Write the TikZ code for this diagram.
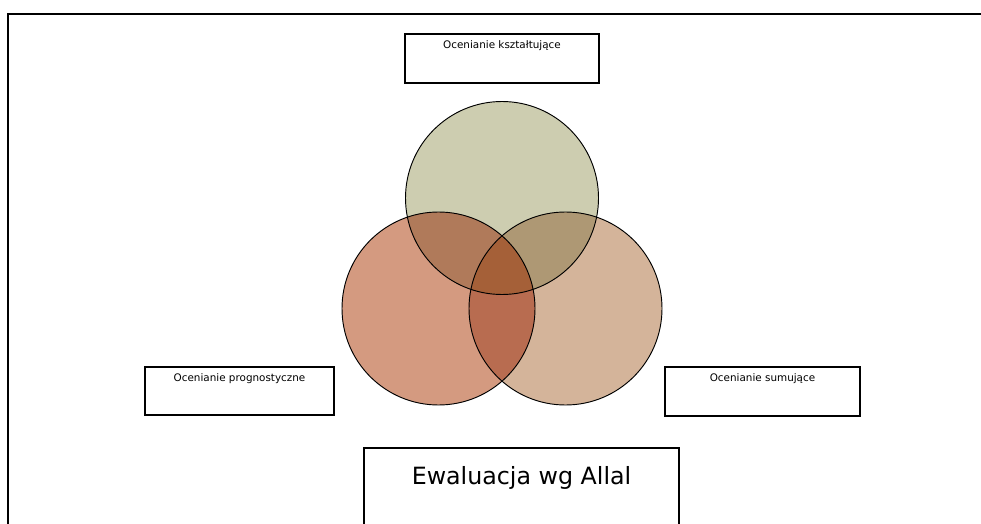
\documentclass[tikz,border=0pt]{standalone}
\usepackage{fontspec}
\setmainfont{DejaVu Sans}
\definecolor{ctop}{RGB}{205,205,176}
\definecolor{cleft}{RGB}{212,154,128}
\definecolor{cright}{RGB}{212,180,154}
\definecolor{ctl}{RGB}{176,122,90}
\definecolor{ctr}{RGB}{174,152,116}
\definecolor{clr}{RGB}{184,108,80}
\definecolor{cmid}{RGB}{165,96,56}
\tikzset{
  labelbox/.style={draw, line width=1.3pt, inner sep=0pt, outer sep=0pt, fill=white, anchor=north west, font=\fontsize{7.8}{9}\selectfont},
  titlebox/.style={labelbox, line width=1.1pt, font=\fontsize{17.8}{20}\selectfont},
  ring/.style={draw=black, line width=0.7pt}
}
\begin{document}
\begin{tikzpicture}[x=0.75pt,y=-0.75pt]
\useasboundingbox (0,0) rectangle (981,524);
\clip (0,0) rectangle (981,524);
\draw[line width=1.8pt] (8,14) rectangle (1000,560);
\coordinate (ct) at (502,198);
\coordinate (cl) at (438.5,308.5);
\coordinate (cr) at (565.5,308.5);
\def\R{96.5}
% base fills
\fill[ctop] (ct) circle[radius=\R];
\fill[cleft] (cl) circle[radius=\R];
\fill[cright] (cr) circle[radius=\R];
% pairwise overlaps
\begin{scope}
  \clip (ct) circle[radius=\R];
  \fill[ctl] (cl) circle[radius=\R];
\end{scope}
\begin{scope}
  \clip (ct) circle[radius=\R];
  \fill[ctr] (cr) circle[radius=\R];
\end{scope}
\begin{scope}
  \clip (cl) circle[radius=\R];
  \fill[clr] (cr) circle[radius=\R];
\end{scope}
\begin{scope}
  \clip (ct) circle[radius=\R];
  \clip (cl) circle[radius=\R];
  \fill[cmid] (cr) circle[radius=\R];
\end{scope}
% outlines
\draw[ring] (ct) circle[radius=\R];
\draw[ring] (cl) circle[radius=\R];
\draw[ring] (cr) circle[radius=\R];
% boxes
\node[labelbox, minimum width=145.5pt, text height=11pt, text depth=25.75pt] (ksz) at (405,34) {Ocenianie kształtujące};
\node[labelbox, minimum width=141.75pt, text height=11.2pt, text depth=24.8pt] (prog) at (145,367) {Ocenianie prognostyczne};
\node[labelbox, minimum width=146.25pt, text height=10.6pt, text depth=26.1pt] (sum) at (665,367) {Ocenianie sumujące};
\node[titlebox, minimum width=236.25pt, text height=27pt, text depth=60pt] (ewal) at (364,448) {Ewaluacja wg Allal};
\end{tikzpicture}
\end{document}
